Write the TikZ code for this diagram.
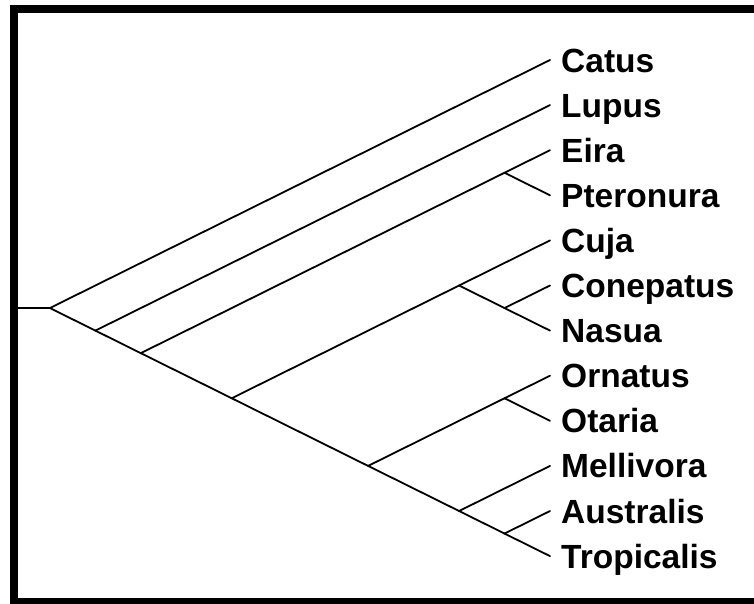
\documentclass[tikz,border=0pt]{standalone}
\usepackage{fontspec}
\setmainfont{Liberation Sans}
\begin{document}
\begin{tikzpicture}[x=1pt,y=-1pt,
  branch/.style={line width=1.8pt,line cap=round,line join=round},
  lab/.style={anchor=base west,inner sep=0pt,font=\fontsize{33.5}{34}\selectfont\bfseries},
  frame/.style={line width=8pt,draw=black}]
\useasboundingbox (0,0) rectangle (754,603);
\begin{scope}
\clip (0,0) rectangle (754,603);
\fill[white] (0,0) rectangle (754,603);
\draw[frame] (14,9) rectangle (780,602);
\end{scope}
% leaf tips
\def\tx{550}
\coordinate (Catus) at (\tx,60);
\coordinate (Lupus) at (\tx,105.1);
\coordinate (Eira) at (\tx,150.2);
\coordinate (Pteronura) at (\tx,195.3);
\coordinate (Cuja) at (\tx,240.4);
\coordinate (Conepatus) at (\tx,285.5);
\coordinate (Nasua) at (\tx,330.6);
\coordinate (Ornatus) at (\tx,375.7);
\coordinate (Otaria) at (\tx,420.8);
\coordinate (Mellivora) at (\tx,465.9);
\coordinate (Australis) at (\tx,511);
\coordinate (Tropicalis) at (\tx,556.1);
% internal nodes
\coordinate (nEP) at (504.5,172.75);
\coordinate (nCN) at (504.5,308.05);
\coordinate (nCCN) at (459.1,285.5);
\coordinate (nOO) at (504.5,398.25);
\coordinate (nAT) at (504.5,533.55);
\coordinate (nMAT) at (459.1,511);
\coordinate (nOM) at (368.1,465.9);
\coordinate (n4) at (231.75,398.25);
\coordinate (n3) at (140.8,353.15);
\coordinate (n2) at (95.4,330.6);
\coordinate (root) at (49.9,308.05);
\coordinate (stub) at (18,308.05);
% branches
\draw[branch] (stub) -- (root);
\draw[branch] (root) -- (Catus);
\draw[branch] (root) -- (n2);
\draw[branch] (n2) -- (Lupus);
\draw[branch] (n2) -- (n3);
\draw[branch] (n3) -- (nEP);
\draw[branch] (n3) -- (n4);
\draw[branch] (nEP) -- (Eira);
\draw[branch] (nEP) -- (Pteronura);
\draw[branch] (n4) -- (nCCN);
\draw[branch] (n4) -- (nOM);
\draw[branch] (nCCN) -- (Cuja);
\draw[branch] (nCCN) -- (nCN);
\draw[branch] (nCN) -- (Conepatus);
\draw[branch] (nCN) -- (Nasua);
\draw[branch] (nOM) -- (nOO);
\draw[branch] (nOM) -- (nMAT);
\draw[branch] (nOO) -- (Ornatus);
\draw[branch] (nOO) -- (Otaria);
\draw[branch] (nMAT) -- (Mellivora);
\draw[branch] (nMAT) -- (nAT);
\draw[branch] (nAT) -- (Australis);
\draw[branch] (nAT) -- (Tropicalis);
% labels
\def\lx{561}
\node[lab] (lCatus) at (\lx,72) {Catus};
\node[lab] (lLupus) at (\lx,117.1) {Lupus};
\node[lab] (lEira) at (\lx,162.2) {Eira};
\node[lab] (lPteronura) at (\lx,207.3) {Pteronura};
\node[lab] (lCuja) at (\lx,252.4) {Cuja};
\node[lab] (lConepatus) at (\lx,297.5) {Conepatus};
\node[lab] (lNasua) at (\lx,342.6) {Nasua};
\node[lab] (lOrnatus) at (\lx,387.7) {Ornatus};
\node[lab] (lOtaria) at (\lx,432.8) {Otaria};
\node[lab] (lMellivora) at (\lx,477.9) {Mellivora};
\node[lab] (lAustralis) at (\lx,523) {Australis};
\node[lab] (lTropicalis) at (\lx,568.1) {Tropicalis};
\end{tikzpicture}
\end{document}
